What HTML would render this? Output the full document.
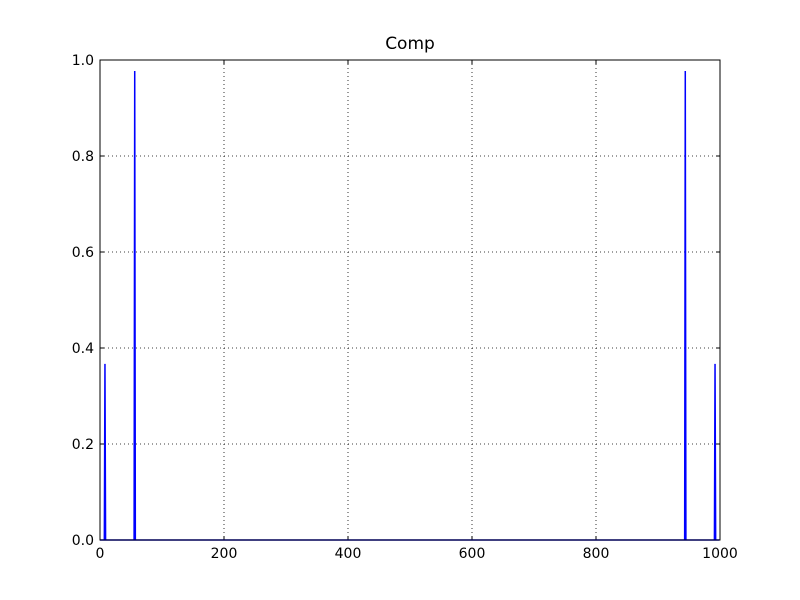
<!DOCTYPE html>
<html><head><meta charset="utf-8"><style>body{margin:0;background:#fff}svg{display:block;font-family:"DejaVu Sans","Liberation Sans",sans-serif}</style></head>
<body>
<svg id="c" width="800" height="600">
<rect width="800" height="600" fill="#fff"/>
<text x="410" y="49" font-size="17" text-anchor="middle">Comp</text>
<g id="grid"></g><g id="ticks"></g>
<polyline id="line" fill="none" stroke="#0000ff" stroke-width="1.5"/>
<rect x="100" y="60" width="620" height="480" fill="none" stroke="#000" stroke-width="1"/>
</svg>
<script>
const spikeX=[8,56,944,992];
const spikeY=[0.367,0.977,0.977,0.367];
const xTicks=[0,200,400,600,800,1000];
const yTicks=[0.0,0.2,0.4,0.6,0.8,1.0];
const N=1000;
const X=v=>100+v*620/1000, Y=v=>540-v*480;
const ns="http://www.w3.org/2000/svg";
function mk(t,a,p){const e=document.createElementNS(ns,t);for(const k in a)e.setAttribute(k,a[k]);p.appendChild(e);return e;}
const g=document.getElementById('grid'),tk=document.getElementById('ticks');
xTicks.forEach(v=>{const x=X(v);
 if(v>0&&v<1000){const l=mk('line',{x1:x,x2:x,y1:60,y2:540,stroke:'#000','stroke-width':0.8,'stroke-dasharray':'1,3'},g);
 
 }
 mk('line',{x1:x,x2:x,y1:540,y2:536,stroke:'#000'},tk);mk('line',{x1:x,x2:x,y1:60,y2:64,stroke:'#000'},tk);
 const t=mk('text',{x:x,y:558,'font-size':14,'text-anchor':'middle'},tk);t.textContent=v;
 
 });
yTicks.forEach(v=>{const y=Y(v);
 if(v>0&&v<1){const l=mk('line',{x1:100,x2:720,y1:y,y2:y,stroke:'#000','stroke-width':0.8,'stroke-dasharray':'1,3'},g);
 
 }
 mk('line',{x1:100,x2:104,y1:y,y2:y,stroke:'#000'},tk);mk('line',{x1:716,x2:720,y1:y,y2:y,stroke:'#000'},tk);
 const t=mk('text',{x:94,y:y+5,'font-size':14,'text-anchor':'end'},tk);t.textContent=v.toFixed(1);
 
 });
const vals=new Array(N).fill(0);spikeX.forEach((x,i)=>vals[x]=spikeY[i]);
document.getElementById('line').setAttribute('points',vals.map((v,i)=>X(i)+','+Y(v)).join(' '));
</script>
</body></html>
